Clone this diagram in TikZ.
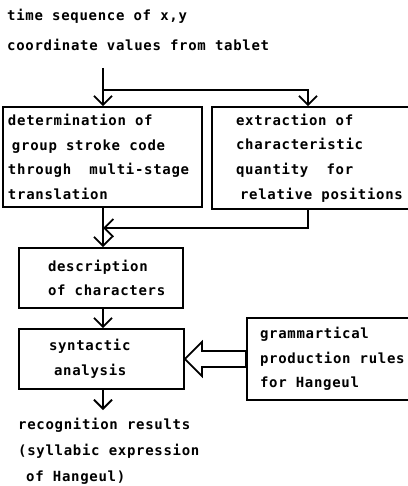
\documentclass[tikz,border=0pt]{standalone}
\usepackage{fontspec}
\newfontfamily\dotfont{DejaVu Sans Mono}[LetterSpace=5]
\usetikzlibrary{arrows.meta, calc}
\newcommand{\diagfont}[1]{\dotfont\bfseries\fontsize{14}{#1}\selectfont}
\tikzset{
  box/.style={draw, line width=1.8pt, inner sep=0pt, align=left, font=\diagfont{24.7}},
  txt/.style={inner sep=0pt, align=left, font=\diagfont{#1}},
  pad/.style={execute at begin node={\leftskip=#1\rightskip=0pt plus 1fil\spaceskip=0pt\xspaceskip=0pt\relax}},
  flow/.style={line width=1.8pt, -{Straight Barb[length=9pt, width=18pt]}},
  hollow/.style={line width=1.8pt, line join=miter, fill=white}
}
\begin{document}
\begin{tikzpicture}[x=1pt, y=-1pt]
  \useasboundingbox (0,0) rectangle (407,486);
  % input and output texts
  \node[txt=30, anchor=west] (src) at (7,30) {time sequence of x,y\\coordinate values from tablet};
  \node[txt=26, anchor=west] (out) at (18,451) {recognition results\\(syllabic expression\\\hspace*{8pt}of Hangeul)};
  % processing boxes
  \node[box, pad=5pt, text width=199pt, minimum height=100pt] (det) at (102.5,157)
    {determination of\\\hspace*{4pt}group stroke code\\through\ \ multi-stage\\translation};
  \node[box, pad=24pt, text width=218pt, minimum height=102pt] (ext) at (321,158)
    {extraction of\\characteristic\\quantity\ \ for\\\hspace*{4pt}relative positions};
  \node[box, pad=29pt, text width=164pt, minimum height=60pt] (des) at (101,278)
    {description\\of characters};
  \node[box, pad=30pt, text width=165pt, minimum height=60pt] (syn) at (101.5,359)
    {syntactic\\\hspace*{5pt}analysis};
  \node[box, pad=13pt, text width=183pt, minimum height=82pt] (rul) at (338.5,359)
    {grammartical\\production rules\\for Hangeul};
  % flow lines
  \coordinate (feed) at (103,68);
  \coordinate (fork) at (103,90);
  \coordinate (branch) at (308,90);
  \coordinate (merge) at (103,228);
  \coordinate (done) at (103,410);
  \draw[flow] (feed) -- (feed |- det.north);
  \draw[flow] (fork) -- (branch) -- (branch |- ext.north);
  \draw[flow] (branch |- ext.south) |- (merge);
  \draw[flow] (feed |- det.south) -- (feed |- des.north);
  \draw[flow] (feed |- des.south) -- (feed |- syn.north);
  \draw[flow] (feed |- syn.south) -- (done);
  % rules feed into the analysis
  \draw[hollow] (syn.east) -- ++(17,-17) -- ++(0,9) -- ($(rul.west)+(0,-8)$)
    -- ($(rul.west)+(0,8)$) -- ($(syn.east)+(17,8)$) -- ++(0,9) -- cycle;
\end{tikzpicture}
\end{document}
